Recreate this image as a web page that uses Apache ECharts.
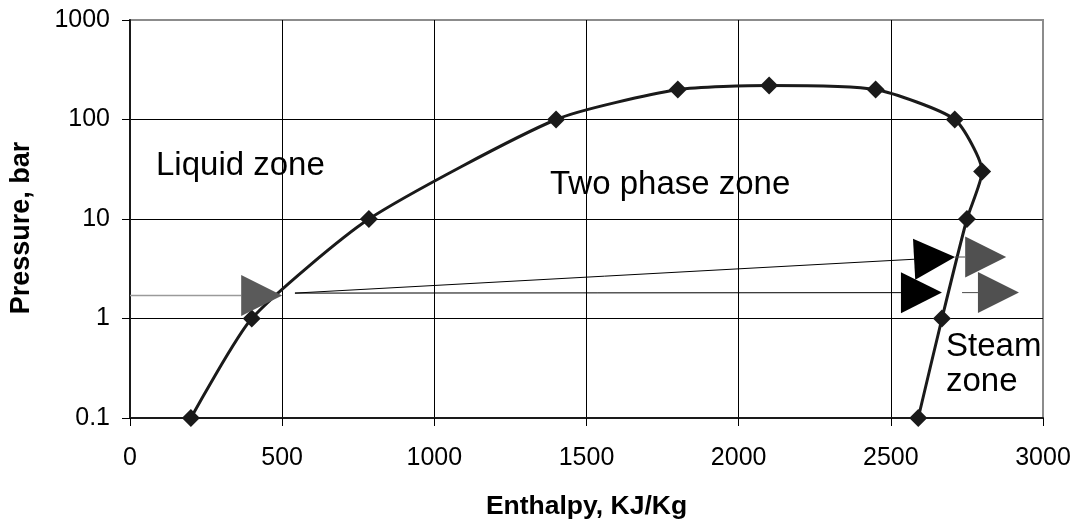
<!DOCTYPE html>
<html>
<head>
<meta charset="utf-8">
<script src="https://cdn.jsdelivr.net/npm/echarts@6/dist/echarts.min.js"></script>
<style>
  html, body { margin: 0; padding: 0; background: #fff; }
  #chart { width: 1081px; height: 521px; }
</style>
</head>
<body>
<div id="chart"></div>
<script>
// Saturation curve of water: enthalpy (kJ/kg) vs pressure (bar)
const enthalpy = [200, 400, 785, 1400, 1800, 2100, 2450, 2710, 2800, 2750, 2668, 2590];
const pressure = [0.1, 1, 10, 100, 200, 220, 200, 100, 30, 10, 1, 0.1];

// Axis ticks
const xTicks = [0, 500, 1000, 1500, 2000, 2500, 3000];
const yTicks = [0.1, 1, 10, 100, 1000];

// Process arrows: start and tip points in (enthalpy, pressure)
const arrowStart = [[0, 1.7], [542, 1.8], [542, 1.8], [2711, 4.15], [2734, 1.82]];
const arrowTip = [[500, 1.7], [2711, 4.15], [2668, 1.82], [2879, 4.15], [2921, 1.82]];
const arrowKind = ['feed', 'path', 'path', 'out', 'out'];

// Zone labels
const zoneNames = ['Liquid zone', 'Two phase zone', 'Steam', 'zone'];

const FONT = '"Liberation Sans", Arial, Helvetica, sans-serif';

const arrowStyles = {
  feed: { line: '#9a9a9a', lineWidth: 1.5, head: '#5a5a5a' },
  path: { line: '#000000', lineWidth: 1, head: '#000000' },
  out:  { line: '#4a4a4a', lineWidth: 1, head: '#505050' }
};

const arrowData = arrowStart.map((s, i) => [s[0], s[1], arrowTip[i][0], arrowTip[i][1], i]);

const chart = echarts.init(document.getElementById('chart'), null, { renderer: 'canvas' });

chart.setOption({
  animation: false,
  backgroundColor: '#ffffff',
  grid: {
    left: 130, right: 38, top: 20, bottom: 103,
    outerBoundsMode: 'none',
    containLabel: false,
    show: true, borderColor: '#8c8c8c', borderWidth: 2, backgroundColor: 'transparent'
  },
  xAxis: {
    type: 'value',
    min: xTicks[0],
    max: xTicks[xTicks.length - 1],
    interval: xTicks[1] - xTicks[0],
    name: 'Enthalpy, KJ/Kg',
    nameLocation: 'middle',
    nameGap: 75,
    nameTextStyle: { fontFamily: FONT, fontSize: 26.5, fontWeight: 'bold', color: '#000' },
    axisLine: { show: true, onZero: false, lineStyle: { color: '#1a1a1a', width: 2 } },
    axisTick: { show: true, length: 8, lineStyle: { color: '#000', width: 1 } },
    axisLabel: { margin: 28, fontFamily: FONT, fontSize: 25, color: '#000', formatter: v => String(v) },
    splitLine: { show: true, showMinLine: false, showMaxLine: false, lineStyle: { color: '#000', width: 1 } }
  },
  yAxis: {
    type: 'log',
    logBase: 10,
    min: yTicks[0],
    max: yTicks[yTicks.length - 1],
    name: 'Pressure, bar',
    nameLocation: 'middle',
    nameGap: 95,
    nameRotate: 90,
    nameTextStyle: { fontFamily: FONT, fontSize: 27, fontWeight: 'bold', color: '#000', padding: [0, 18, 0, 0] },
    axisLine: { show: true, lineStyle: { color: '#1a1a1a', width: 2 } },
    axisTick: { show: true, length: 8, lineStyle: { color: '#000', width: 1 } },
    axisLabel: {
      margin: 20, fontFamily: FONT, fontSize: 25, color: '#000',
      formatter: v => {
        const t = yTicks.find(k => Math.abs(Math.log10(k) - Math.log10(v)) < 1e-6);
        return String(t !== undefined ? t : v);
      }
    },
    splitLine: { show: true, showMinLine: false, showMaxLine: false, lineStyle: { color: '#000', width: 1 } }
  },
  series: [
    {
      type: 'line',
      data: enthalpy.map((h, i) => [h, pressure[i]]),
      smooth: 0.2,
      symbol: 'diamond',
      symbolSize: 18,
      lineStyle: { color: '#1a1a1a', width: 3 },
      itemStyle: { color: '#1a1a1a' },
      z: 3
    },
    {
      type: 'custom',
      coordinateSystem: 'cartesian2d',
      data: arrowData,
      encode: { x: [0, 2], y: [1, 3] },
      z: 5,
      renderItem: (params, api) => {
        const p0 = api.coord([api.value(0), api.value(1)]);
        const p1 = api.coord([api.value(2), api.value(3)]);
        const st = arrowStyles[arrowKind[api.value(4)]];
        const ang = Math.atan2(p1[1] - p0[1], p1[0] - p0[0]);
        const headLen = 41, headHalf = 20.5;
        const cx = Math.cos(ang), cy = Math.sin(ang);
        const bx = p1[0] - headLen * cx, by = p1[1] - headLen * cy;
        return {
          type: 'group',
          children: [
            {
              type: 'line',
              shape: { x1: p0[0], y1: p0[1], x2: bx, y2: by },
              style: { stroke: st.line, lineWidth: st.lineWidth }
            },
            {
              type: 'polygon',
              shape: { points: [p1, [bx - headHalf * cy, by + headHalf * cx], [bx + headHalf * cy, by - headHalf * cx]] },
              style: { fill: st.head }
            }
          ]
        };
      }
    }
  ],
  graphic: [
    { type: 'text', left: 156, top: 149, style: { text: zoneNames[0], font: '33px ' + FONT, fill: '#000' } },
    { type: 'text', left: 550, top: 168, style: { text: zoneNames[1], font: '33px ' + FONT, fill: '#000' } },
    { type: 'text', left: 946, top: 330, style: { text: zoneNames[2], font: '33px ' + FONT, fill: '#000' } },
    { type: 'text', left: 946, top: 365, style: { text: zoneNames[3], font: '33px ' + FONT, fill: '#000' } }
  ]
});
</script>
</body>
</html>
